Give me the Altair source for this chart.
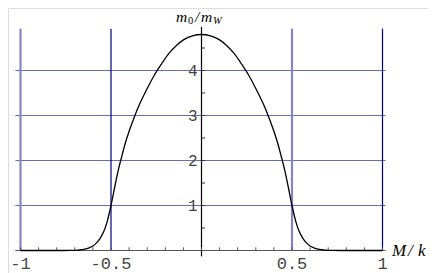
import altair as alt
import pandas as pd

# curve m0/mW versus M/k
curve_x = [-1.0, -0.9, -0.8, -0.72, -0.68, -0.65, -0.62, -0.6, -0.58, -0.56, -0.54, -0.52,
           -0.5, -0.48, -0.46, -0.44, -0.42, -0.4, -0.37, -0.34, -0.3, -0.26, -0.22, -0.18,
           -0.14, -0.1, -0.05, 0.0,
           0.05, 0.1, 0.14, 0.18, 0.22, 0.26, 0.3, 0.34, 0.37, 0.4, 0.42, 0.44, 0.46, 0.48,
           0.5, 0.52, 0.54, 0.56, 0.58, 0.6, 0.62, 0.65, 0.68, 0.72, 0.8, 0.9, 1.0]
curve_y = [0.0, 0.0, 0.0, 0.002, 0.01, 0.025, 0.06, 0.1, 0.17, 0.27, 0.42, 0.66,
           1.0, 1.4, 1.78, 2.1, 2.4, 2.65, 2.98, 3.27, 3.6, 3.9, 4.15, 4.38,
           4.55, 4.68, 4.77, 4.8,
           4.77, 4.68, 4.55, 4.38, 4.15, 3.9, 3.6, 3.27, 2.98, 2.65, 2.4, 2.1, 1.78, 1.4,
           1.0, 0.66, 0.42, 0.27, 0.17, 0.1, 0.06, 0.025, 0.01, 0.002, 0.0, 0.0, 0.0]

light_vlines = [-1.0, 0.5]
dark_vlines = [-0.5, 1.0]
hgrid = [1, 2, 3, 4]
x_tick_labels = ["-1", "-0.5", "0.5", "1"]
x_tick_vals = [-1.0, -0.5, 0.5, 1.0]
y_tick_labels = ["1", "2", "3", "4"]
y_tick_vals = [1, 2, 3, 4]
x_minor = [round(-1 + 0.1 * i, 2) for i in range(21)]
y_minor = [0.5 * i for i in range(1, 10)]

W, H = 420, 265
X0, XS = 193.5, 181.0
Y0, YS = 242.5, 45.0
X_DOM = [-X0 / XS, (W - X0) / XS]
Y_DOM = [(Y0 - H) / YS, Y0 / YS]
xs = alt.Scale(domain=X_DOM, nice=False, zero=False)
ys = alt.Scale(domain=Y_DOM, nice=False, zero=False)

def X(f="x"):
    return alt.X(f, type="quantitative", scale=xs, axis=None)

def Y(f="y"):
    return alt.Y(f, type="quantitative", scale=ys, axis=None)

X_LEFT, X_RIGHT = -1.028, 1.017
V_TOP = 4.93

hg = pd.DataFrame({"y": hgrid, "x": X_LEFT, "x2": X_RIGHT})
grid_h = alt.Chart(hg).mark_rule(color="#6b6bb8", strokeWidth=1).encode(
    x=X(), x2="x2", y=Y())

lv = pd.DataFrame({"x": light_vlines, "y": 0.0, "y2": V_TOP})
light = alt.Chart(lv).mark_rule(color="#8585c6", strokeWidth=2.2).encode(
    x=X(), y=Y(), y2="y2")
dv = pd.DataFrame({"x": dark_vlines, "y": 0.0, "y2": V_TOP})
dark = alt.Chart(dv).mark_rule(color="#000080", strokeWidth=1.2).encode(
    x=X(), y=Y(), y2="y2")

xaxis = alt.Chart(pd.DataFrame({"x": [X_LEFT], "x2": [X_RIGHT], "y": [0.0]})).mark_rule(
    color="#555555", strokeWidth=1).encode(x=X(), x2="x2", y=Y())
yaxis = alt.Chart(pd.DataFrame({"x": [0.0], "y": [-0.13], "y2": [4.97]})).mark_rule(
    color="black", strokeWidth=1.2).encode(x=X(), y=Y(), y2="y2")

xt = pd.DataFrame({"x": x_minor, "y": 0.0, "y2": 0.07})
xticks = alt.Chart(xt).mark_rule(color="#555555", strokeWidth=1).encode(
    x=X(), y=Y(), y2="y2")
yt = pd.DataFrame({"y": y_minor, "x": 0.0, "x2": 0.02})
yticks = alt.Chart(yt).mark_rule(color="#333333", strokeWidth=1).encode(
    x=X(), x2="x2", y=Y())

curve = alt.Chart(pd.DataFrame({"x": curve_x, "y": curve_y})).mark_line(
    color="black", strokeWidth=1.3, interpolate="monotone").encode(
    x=X(), y=Y(), order="x:Q")

xl = pd.DataFrame({"x": x_tick_vals, "t": x_tick_labels, "y": -0.13})
xlabels = alt.Chart(xl).mark_text(font="Liberation Mono", fontSize=17, color="#444444",
                                   align="center", baseline="top").encode(
    x=X(), y=Y(), text="t:N")
yl = pd.DataFrame({"y": y_tick_vals, "t": y_tick_labels, "x": -0.022})
ylabels = alt.Chart(yl).mark_text(font="Liberation Mono", fontSize=16, color="#444444",
                                   align="right", baseline="middle").encode(
    x=X(), y=Y(), text="t:N")

serif = "Liberation Serif"
# (text, x, baseline y, size, style) in chart pixels
label_parts = [
    ("m", 168, 14, 15.5, "italic"),
    ("0", 180, 16, 10.5, "normal"),
    ("/", 187, 14, 15.5, "italic"),
    ("m", 193, 14, 15.5, "italic"),
    ("W", 205, 16, 10.5, "italic"),
    ("M", 384, 248, 17, "italic"),
    ("/", 400, 248, 17, "italic"),
    ("k", 410, 248, 17, "italic"),
]
label_layers = [
    alt.Chart(pd.DataFrame({"t": [t]})).mark_text(
        font=serif, fontSize=fs, fontStyle=st, align="left", baseline="alphabetic",
        color="black").encode(x=alt.value(px), y=alt.value(py), text="t:N")
    for t, px, py, fs, st in label_parts
]

chart = alt.layer(grid_h, light, dark, xaxis, yaxis, xticks, yticks, curve,
                  xlabels, ylabels, *label_layers).properties(
    width=W, height=H, autosize="none", padding=0
).configure_view(stroke=None).configure(background="white")

chart.save("out.html", embed_options={"renderer": "svg", "actions": False})
